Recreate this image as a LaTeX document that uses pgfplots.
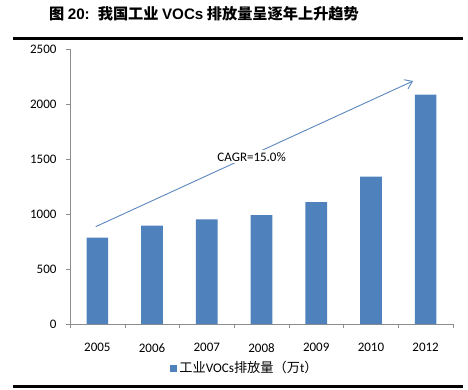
\documentclass[border=0pt]{standalone}
\usepackage{pgfplots}
\pgfplotsset{compat=1.18}
\usetikzlibrary{arrows.meta}
\usepackage{fontspec}
\setmainfont{Carlito}
\newfontfamily\cjk{Noto Sans CJK SC}
\newfontfamily\arial{Liberation Sans}
\definecolor{barblue}{HTML}{4F81BD}
\definecolor{arrowblue}{HTML}{5A87BE}
\begin{document}
\begin{tikzpicture}
\useasboundingbox (0pt,0pt) rectangle (468pt,-390pt);
\node[anchor=west,inner sep=0] at (49pt,-14pt) {\fontsize{15.2}{17}\selectfont\bfseries{\cjk 图} {\arial 20:} \ {\cjk 我国工业} {\arial VOCs} {\cjk 排放量呈逐年上升趋势}};
\fill[black] (13pt,-37pt) rectangle (463pt,-40.5pt);
\fill[black] (13pt,-385pt) rectangle (463pt,-388pt);
\begin{axis}[
  at={(70pt,-324pt)}, anchor=south west,
  scale only axis, width=383pt, height=275pt,
  xmin=-0.5, xmax=6.5, ymin=0, ymax=2500,
  axis x line*=bottom, axis y line*=left,
  axis line style={draw=black!45, -},
  ytick={0,500,1000,1500,2000,2500},
  xtick={0,...,6},
  xticklabels={2005,2006,2007,2008,2009,2010,2012},
  minor xtick={-0.5,0.5,...,6.5},
  major x tick style={draw=none},
  tick style={draw=black!45},
  tick align=outside,
  major tick length=4pt, minor tick length=4pt,
  ticklabel style={font=\fontsize{13}{15}\selectfont},
  /pgf/number format/assume math mode=true,
  /pgf/number format/1000 sep={},
  yticklabel style={xshift=-6pt},
  xticklabel style={yshift=-12pt},
  legend style={draw=none, at={(0.457,-0.16)}, anchor=center, font=\fontsize{13.2}{15}\selectfont, inner sep=0pt},
  legend image code/.code={\fill[#1] (0pt,-3.5pt) rectangle (7pt,3.5pt);},
  clip=false,
]
\addplot[ybar, bar width=21.7pt, fill=barblue, draw=none] coordinates {
  (0,785) (1,895) (2,951) (3,990) (4,1109) (5,1339) (6,2085)
};
\addlegendentry{{\cjk 工业}VOCs{\cjk 排放量（万}t{\cjk ）}}
\draw[arrowblue, line width=0.9pt, -{Straight Barb[length=7pt,width=10pt]}] (axis cs:-0.03,885) -- (axis cs:5.77,2209);
\node[fill=white, inner sep=2pt, font=\fontsize{13}{15}\selectfont] at (axis cs:2.82,1521) {CAGR=15.0\%};
\end{axis}
\end{tikzpicture}
\end{document}
